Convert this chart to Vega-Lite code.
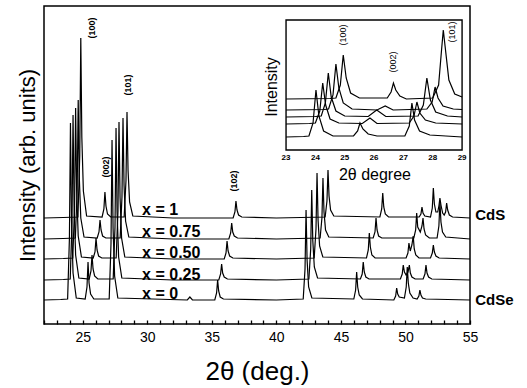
{
  "$schema": "https://vega.github.io/schema/vega-lite/v6.json",
  "width": 426,
  "height": 318,
  "autosize": {"type": "none"},
  "padding": {"left": 44, "top": 6, "right": 57, "bottom": 64},
  "background": "white",
  "config": {"view": {"stroke": "black", "strokeWidth": 1.5}, "font": "Liberation Sans"},
  "datasets": {
    "main": [
      {"s":"1","x":22,"y":106},{"s":"1","x":23.5,"y":106.5},{"s":"1","x":24.63,"y":107},{"s":"1","x":24.77,"y":169},{"s":"1","x":24.85,"y":286},{"s":"1","x":24.93,"y":187},{"s":"1","x":25.05,"y":133},{"s":"1","x":25.3,"y":108},{"s":"1","x":26.5,"y":107},{"s":"1","x":26.64,"y":115},{"s":"1","x":26.72,"y":132},{"s":"1","x":26.8,"y":118},{"s":"1","x":26.92,"y":110},{"s":"1","x":27.17,"y":107},{"s":"1","x":28.21,"y":107},{"s":"1","x":28.35,"y":143},{"s":"1","x":28.43,"y":212},{"s":"1","x":28.51,"y":154},{"s":"1","x":28.63,"y":122},{"s":"1","x":28.88,"y":108},{"s":"1","x":32,"y":106},{"s":"1","x":36.65,"y":106},{"s":"1","x":36.79,"y":112},{"s":"1","x":36.87,"y":123},{"s":"1","x":36.95,"y":114},{"s":"1","x":37.07,"y":109},{"s":"1","x":37.32,"y":107},{"s":"1","x":40,"y":106},{"s":"1","x":43.78,"y":107},{"s":"1","x":43.92,"y":123},{"s":"1","x":44.0,"y":154},{"s":"1","x":44.08,"y":128},{"s":"1","x":44.2,"y":114},{"s":"1","x":44.45,"y":108},{"s":"1","x":48.02,"y":107},{"s":"1","x":48.16,"y":115},{"s":"1","x":48.24,"y":131},{"s":"1","x":48.32,"y":117},{"s":"1","x":48.44,"y":110},{"s":"1","x":48.69,"y":107},{"s":"1","x":51.06,"y":107},{"s":"1","x":51.2,"y":110},{"s":"1","x":51.28,"y":117},{"s":"1","x":51.36,"y":111},{"s":"1","x":51.5,"y":108},{"s":"1","x":51.94,"y":107},{"s":"1","x":52.08,"y":116},{"s":"1","x":52.16,"y":136},{"s":"1","x":52.24,"y":120},{"s":"1","x":52.36,"y":112},{"s":"1","x":52.5,"y":112},{"s":"1","x":52.59,"y":118},{"s":"1","x":52.67,"y":126},{"s":"1","x":52.75,"y":119},{"s":"1","x":52.88,"y":111},{"s":"1","x":53.0,"y":109},{"s":"1","x":53.11,"y":112},{"s":"1","x":53.19,"y":121},{"s":"1","x":53.27,"y":114},{"s":"1","x":53.4,"y":109},{"s":"1","x":53.65,"y":107},{"s":"1","x":55,"y":106},
      {"s":"0.75","x":22,"y":85},{"s":"0.75","x":23.5,"y":85.5},{"s":"0.75","x":24.43,"y":86},{"s":"0.75","x":24.57,"y":134},{"s":"0.75","x":24.65,"y":224},{"s":"0.75","x":24.73,"y":148},{"s":"0.75","x":24.85,"y":106},{"s":"0.75","x":25.1,"y":87},{"s":"0.75","x":26.12,"y":86},{"s":"0.75","x":26.26,"y":92},{"s":"0.75","x":26.34,"y":104},{"s":"0.75","x":26.42,"y":94},{"s":"0.75","x":26.54,"y":88},{"s":"0.75","x":26.79,"y":86},{"s":"0.75","x":27.9,"y":86},{"s":"0.75","x":28.04,"y":127},{"s":"0.75","x":28.12,"y":206},{"s":"0.75","x":28.2,"y":139},{"s":"0.75","x":28.32,"y":103},{"s":"0.75","x":28.57,"y":87},{"s":"0.75","x":32,"y":85},{"s":"0.75","x":36.32,"y":85},{"s":"0.75","x":36.46,"y":91},{"s":"0.75","x":36.54,"y":101},{"s":"0.75","x":36.62,"y":92},{"s":"0.75","x":36.74,"y":88},{"s":"0.75","x":36.99,"y":86},{"s":"0.75","x":40,"y":85},{"s":"0.75","x":43.39,"y":86},{"s":"0.75","x":43.53,"y":106},{"s":"0.75","x":43.61,"y":146},{"s":"0.75","x":43.69,"y":112},{"s":"0.75","x":43.81,"y":94},{"s":"0.75","x":44.06,"y":87},{"s":"0.75","x":47.5,"y":86},{"s":"0.75","x":47.64,"y":92},{"s":"0.75","x":47.72,"y":106},{"s":"0.75","x":47.8,"y":94},{"s":"0.75","x":47.92,"y":88},{"s":"0.75","x":48.17,"y":86},{"s":"0.75","x":50.65,"y":86},{"s":"0.75","x":50.79,"y":94},{"s":"0.75","x":50.87,"y":111},{"s":"0.75","x":50.95,"y":97},{"s":"0.75","x":51.15,"y":92},{"s":"0.75","x":51.28,"y":98},{"s":"0.75","x":51.36,"y":106},{"s":"0.75","x":51.44,"y":95},{"s":"0.75","x":51.56,"y":89},{"s":"0.75","x":51.85,"y":86},{"s":"0.75","x":52.45,"y":86},{"s":"0.75","x":52.59,"y":98},{"s":"0.75","x":52.67,"y":122},{"s":"0.75","x":52.75,"y":102},{"s":"0.75","x":52.87,"y":92},{"s":"0.75","x":53.12,"y":87},{"s":"0.75","x":55,"y":85},
      {"s":"0.5","x":22,"y":65},{"s":"0.5","x":23.5,"y":65.5},{"s":"0.5","x":24.23,"y":66},{"s":"0.5","x":24.37,"y":118},{"s":"0.5","x":24.45,"y":216},{"s":"0.5","x":24.53,"y":133},{"s":"0.5","x":24.65,"y":88},{"s":"0.5","x":24.9,"y":67},{"s":"0.5","x":25.81,"y":66},{"s":"0.5","x":25.95,"y":72},{"s":"0.5","x":26.03,"y":86},{"s":"0.5","x":26.11,"y":74},{"s":"0.5","x":26.23,"y":68},{"s":"0.5","x":26.48,"y":66},{"s":"0.5","x":27.59,"y":66},{"s":"0.5","x":27.73,"y":113},{"s":"0.5","x":27.81,"y":202},{"s":"0.5","x":27.89,"y":127},{"s":"0.5","x":28.01,"y":86},{"s":"0.5","x":28.26,"y":67},{"s":"0.5","x":32,"y":65},{"s":"0.5","x":35.96,"y":65},{"s":"0.5","x":36.1,"y":71},{"s":"0.5","x":36.18,"y":83},{"s":"0.5","x":36.26,"y":73},{"s":"0.5","x":36.38,"y":68},{"s":"0.5","x":36.63,"y":66},{"s":"0.5","x":40,"y":65},{"s":"0.5","x":42.93,"y":66},{"s":"0.5","x":43.07,"y":95},{"s":"0.5","x":43.15,"y":151},{"s":"0.5","x":43.23,"y":104},{"s":"0.5","x":43.35,"y":78},{"s":"0.5","x":43.6,"y":67},{"s":"0.5","x":46.98,"y":66},{"s":"0.5","x":47.12,"y":74},{"s":"0.5","x":47.2,"y":91},{"s":"0.5","x":47.28,"y":77},{"s":"0.5","x":47.4,"y":69},{"s":"0.5","x":47.65,"y":66},{"s":"0.5","x":50.05,"y":66},{"s":"0.5","x":50.19,"y":71},{"s":"0.5","x":50.27,"y":81},{"s":"0.5","x":50.37,"y":73},{"s":"0.5","x":50.5,"y":79},{"s":"0.5","x":50.6,"y":88},{"s":"0.5","x":50.68,"y":75},{"s":"0.5","x":50.8,"y":69},{"s":"0.5","x":51.05,"y":66},{"s":"0.5","x":51.94,"y":66},{"s":"0.5","x":52.08,"y":71},{"s":"0.5","x":52.16,"y":79},{"s":"0.5","x":52.24,"y":72},{"s":"0.5","x":52.36,"y":68},{"s":"0.5","x":52.61,"y":66},{"s":"0.5","x":55,"y":65},
      {"s":"0.25","x":22,"y":44},{"s":"0.25","x":23.5,"y":44.5},{"s":"0.25","x":24.03,"y":45},{"s":"0.25","x":24.17,"y":102},{"s":"0.25","x":24.25,"y":209},{"s":"0.25","x":24.33,"y":118},{"s":"0.25","x":24.45,"y":69},{"s":"0.25","x":24.7,"y":46},{"s":"0.25","x":25.5,"y":45},{"s":"0.25","x":25.64,"y":53},{"s":"0.25","x":25.72,"y":69},{"s":"0.25","x":25.8,"y":55},{"s":"0.25","x":25.92,"y":48},{"s":"0.25","x":26.17,"y":45},{"s":"0.25","x":27.36,"y":45},{"s":"0.25","x":27.5,"y":97},{"s":"0.25","x":27.58,"y":196},{"s":"0.25","x":27.66,"y":112},{"s":"0.25","x":27.78,"y":67},{"s":"0.25","x":28.03,"y":46},{"s":"0.25","x":32,"y":44},{"s":"0.25","x":35.54,"y":44},{"s":"0.25","x":35.68,"y":50},{"s":"0.25","x":35.76,"y":60},{"s":"0.25","x":35.84,"y":51},{"s":"0.25","x":35.96,"y":47},{"s":"0.25","x":36.21,"y":45},{"s":"0.25","x":40,"y":44},{"s":"0.25","x":42.52,"y":45},{"s":"0.25","x":42.66,"y":75},{"s":"0.25","x":42.74,"y":134},{"s":"0.25","x":42.82,"y":84},{"s":"0.25","x":42.94,"y":57},{"s":"0.25","x":43.19,"y":46},{"s":"0.25","x":46.51,"y":45},{"s":"0.25","x":46.65,"y":50},{"s":"0.25","x":46.73,"y":62},{"s":"0.25","x":46.81,"y":52},{"s":"0.25","x":46.93,"y":47},{"s":"0.25","x":47.18,"y":45},{"s":"0.25","x":49.61,"y":45},{"s":"0.25","x":49.75,"y":50},{"s":"0.25","x":49.83,"y":59},{"s":"0.25","x":49.92,"y":52},{"s":"0.25","x":50.05,"y":49},{"s":"0.25","x":50.2,"y":52},{"s":"0.25","x":50.3,"y":59},{"s":"0.25","x":50.38,"y":51},{"s":"0.25","x":50.5,"y":47},{"s":"0.25","x":50.75,"y":45},{"s":"0.25","x":51.37,"y":45},{"s":"0.25","x":51.51,"y":50},{"s":"0.25","x":51.59,"y":59},{"s":"0.25","x":51.67,"y":51},{"s":"0.25","x":51.79,"y":47},{"s":"0.25","x":52.04,"y":45},{"s":"0.25","x":55,"y":44},
      {"s":"0","x":22,"y":24},{"s":"0","x":23.3,"y":24.5},{"s":"0","x":23.83,"y":25},{"s":"0","x":23.97,"y":86},{"s":"0","x":24.05,"y":201},{"s":"0","x":24.13,"y":104},{"s":"0","x":24.25,"y":51},{"s":"0","x":24.5,"y":26},{"s":"0","x":25.19,"y":25},{"s":"0","x":25.33,"y":37},{"s":"0","x":25.41,"y":62},{"s":"0","x":25.49,"y":41},{"s":"0","x":25.61,"y":30},{"s":"0","x":25.86,"y":25},{"s":"0","x":27.05,"y":25},{"s":"0","x":27.19,"y":80},{"s":"0","x":27.27,"y":184},{"s":"0","x":27.35,"y":96},{"s":"0","x":27.47,"y":48},{"s":"0","x":27.72,"y":26},{"s":"0","x":33.1,"y":24},{"s":"0","x":33.3,"y":27},{"s":"0","x":33.5,"y":24},{"s":"0","x":35.23,"y":24},{"s":"0","x":35.37,"y":31},{"s":"0","x":35.45,"y":44},{"s":"0","x":35.53,"y":33},{"s":"0","x":35.65,"y":27},{"s":"0","x":35.9,"y":25},{"s":"0","x":40,"y":24},{"s":"0","x":42.08,"y":25},{"s":"0","x":42.22,"y":55},{"s":"0","x":42.3,"y":114},{"s":"0","x":42.38,"y":64},{"s":"0","x":42.5,"y":37},{"s":"0","x":42.75,"y":26},{"s":"0","x":46.0,"y":25},{"s":"0","x":46.14,"y":34},{"s":"0","x":46.22,"y":52},{"s":"0","x":46.3,"y":37},{"s":"0","x":46.42,"y":29},{"s":"0","x":46.67,"y":25},{"s":"0","x":49.1,"y":24},{"s":"0","x":49.24,"y":28},{"s":"0","x":49.32,"y":36},{"s":"0","x":49.4,"y":30},{"s":"0","x":49.52,"y":27},{"s":"0","x":49.92,"y":26},{"s":"0","x":50.06,"y":37},{"s":"0","x":50.14,"y":57},{"s":"0","x":50.22,"y":41},{"s":"0","x":50.34,"y":31},{"s":"0","x":50.59,"y":26},{"s":"0","x":50.9,"y":25},{"s":"0","x":51.04,"y":28},{"s":"0","x":51.12,"y":34},{"s":"0","x":51.2,"y":29},{"s":"0","x":51.32,"y":26},{"s":"0","x":51.57,"y":25},{"s":"0","x":55,"y":24}
    ],
    "inset": [
      {"s":"1","x":23,"y":51},{"s":"1","x":24.5,"y":51.5},{"s":"1","x":24.7,"y":52},{"s":"1","x":24.85,"y":65},{"s":"1","x":24.95,"y":95},{"s":"1","x":25.05,"y":72},{"s":"1","x":25.2,"y":57},{"s":"1","x":25.5,"y":52},{"s":"1","x":26.45,"y":52},{"s":"1","x":26.58,"y":58},{"s":"1","x":26.66,"y":67},{"s":"1","x":26.74,"y":60},{"s":"1","x":26.88,"y":54},{"s":"1","x":27.1,"y":51},{"s":"1","x":28.0,"y":52},{"s":"1","x":28.2,"y":65},{"s":"1","x":28.3,"y":100},{"s":"1","x":28.36,"y":120},{"s":"1","x":28.42,"y":104},{"s":"1","x":28.55,"y":70},{"s":"1","x":28.75,"y":56},{"s":"1","x":29,"y":53},
      {"s":"0.75","x":23,"y":40},{"s":"0.75","x":24.3,"y":40.5},{"s":"0.75","x":24.45,"y":41},{"s":"0.75","x":24.6,"y":55},{"s":"0.75","x":24.7,"y":86},{"s":"0.75","x":24.8,"y":62},{"s":"0.75","x":24.95,"y":47},{"s":"0.75","x":25.25,"y":41},{"s":"0.75","x":26.1,"y":40},{"s":"0.75","x":26.38,"y":44},{"s":"0.75","x":26.65,"y":40},{"s":"0.75","x":27.8,"y":41},{"s":"0.75","x":27.98,"y":48},{"s":"0.75","x":28.08,"y":63},{"s":"0.75","x":28.18,"y":52},{"s":"0.75","x":28.35,"y":44},{"s":"0.75","x":28.7,"y":41},{"s":"0.75","x":29,"y":40.5},
      {"s":"0.5","x":23,"y":33},{"s":"0.5","x":24.0,"y":33.5},{"s":"0.5","x":24.2,"y":34},{"s":"0.5","x":24.34,"y":47},{"s":"0.5","x":24.44,"y":77},{"s":"0.5","x":24.54,"y":53},{"s":"0.5","x":24.7,"y":39},{"s":"0.5","x":25.0,"y":34},{"s":"0.5","x":25.8,"y":33.5},{"s":"0.5","x":26.09,"y":40},{"s":"0.5","x":26.4,"y":33.5},{"s":"0.5","x":27.5,"y":34},{"s":"0.5","x":27.68,"y":45},{"s":"0.5","x":27.8,"y":72},{"s":"0.5","x":27.92,"y":50},{"s":"0.5","x":28.1,"y":38},{"s":"0.5","x":28.5,"y":34},{"s":"0.5","x":29,"y":33},
      {"s":"0.25","x":23,"y":26},{"s":"0.25","x":23.8,"y":26.5},{"s":"0.25","x":24.0,"y":27},{"s":"0.25","x":24.15,"y":39},{"s":"0.25","x":24.25,"y":67},{"s":"0.25","x":24.35,"y":45},{"s":"0.25","x":24.5,"y":31},{"s":"0.25","x":24.8,"y":27},{"s":"0.25","x":25.6,"y":26.5},{"s":"0.25","x":25.86,"y":32},{"s":"0.25","x":26.1,"y":26.5},{"s":"0.25","x":27.2,"y":27},{"s":"0.25","x":27.36,"y":34},{"s":"0.25","x":27.46,"y":48},{"s":"0.25","x":27.56,"y":37},{"s":"0.25","x":27.75,"y":30},{"s":"0.25","x":28.1,"y":27},{"s":"0.25","x":29,"y":26},
      {"s":"0","x":23,"y":13},{"s":"0","x":23.6,"y":13.5},{"s":"0","x":23.78,"y":14},{"s":"0","x":23.92,"y":27},{"s":"0","x":24.02,"y":60},{"s":"0","x":24.12,"y":34},{"s":"0","x":24.28,"y":19},{"s":"0","x":24.6,"y":14},{"s":"0","x":25.3,"y":14},{"s":"0","x":25.44,"y":19},{"s":"0","x":25.52,"y":27},{"s":"0","x":25.62,"y":21},{"s":"0","x":25.8,"y":16},{"s":"0","x":26.1,"y":14},{"s":"0","x":27.05,"y":14},{"s":"0","x":27.2,"y":24},{"s":"0","x":27.29,"y":47},{"s":"0","x":27.38,"y":30},{"s":"0","x":27.55,"y":19},{"s":"0","x":27.9,"y":15},{"s":"0","x":29,"y":13}
    ]
  },
  "layer": [
    {
      "encoding": {
        "x": {"field": "x", "type": "quantitative",
          "scale": {"domain": [22, 55], "nice": false, "zero": false},
          "axis": {"title": "2θ (deg.)", "values": [22,23,24,25,26,27,28,29,30,31,32,33,34,35,36,37,38,39,40,41,42,43,44,45,46,47,48,49,50,51,52,53,54,55],
            "labelExpr": "datum.value % 5 === 0 ? datum.label : ''", "labelOverlap": false, "labelFlush": false,
            "tickSize": -4, "tickColor": "black", "tickWidth": 1.3, "domain": false, "grid": false,
            "labelFontSize": 14, "labelColor": "black", "labelPadding": 10, "labelFont": "Liberation Sans",
            "titleFontSize": 26, "titleFontWeight": "normal", "titleColor": "black", "titlePadding": 14, "titleFont": "Liberation Sans"}},
        "y": {"field": "y", "type": "quantitative",
          "scale": {"domain": [0, 318], "nice": false, "zero": false},
          "axis": {"title": "Intensity (arb. units)", "labels": false, "ticks": false, "domain": false, "grid": false,
            "titleFontSize": 22, "titleFontWeight": "normal", "titleColor": "black", "titlePadding": 5, "titleFont": "Liberation Sans"}}
      },
      "layer": [
        {"data": {"name": "main"}, "mark": {"type": "line", "color": "black", "strokeWidth": 1.2},
         "encoding": {"detail": {"field": "s", "type": "nominal"}}},
        {"data": {"values": [
            {"x": 29.6, "y": 114, "t": "x = 1"},
            {"x": 29.6, "y": 92, "t": "x = 0.75"},
            {"x": 29.6, "y": 71, "t": "x = 0.50"},
            {"x": 29.6, "y": 49, "t": "x = 0.25"},
            {"x": 29.6, "y": 30, "t": "x = 0"}]},
         "mark": {"type": "text", "align": "left", "baseline": "middle", "fontSize": 16, "fontWeight": "bold", "color": "black"},
         "encoding": {"text": {"field": "t"}}},
        {"data": {"values": [
            {"x": 55.4, "y": 109, "t": "CdS"},
            {"x": 55.4, "y": 24, "t": "CdSe"}]},
         "mark": {"type": "text", "align": "left", "baseline": "middle", "fontSize": 15, "fontWeight": "bold", "color": "black", "clip": false},
         "encoding": {"text": {"field": "t"}}},
        {"data": {"values": [
            {"x": 25.72, "y": 296, "t": "(100)"},
            {"x": 26.8, "y": 157, "t": "(002)"},
            {"x": 28.5, "y": 239, "t": "(101)"},
            {"x": 36.7, "y": 143, "t": "(102)"}]},
         "mark": {"type": "text", "align": "center", "baseline": "middle", "angle": 270, "fontSize": 9, "fontWeight": "bold", "color": "black"},
         "encoding": {"text": {"field": "t"}}}
      ]
    },
    {
      "encoding": {
        "x": {"field": "x", "type": "quantitative", "scale": {"domain": [14.75, 29.27], "nice": false, "zero": false}, "axis": null},
        "y": {"field": "y", "type": "quantitative", "scale": {"domain": [-174, 144], "nice": false, "zero": false}, "axis": null}
      },
      "layer": [
        {"data": {"values": [{"x": 23, "x2": 29, "y": 0, "y2": 130}]},
         "mark": {"type": "rect", "fill": "white", "stroke": "black", "strokeWidth": 1.4},
         "encoding": {"x2": {"field": "x2"}, "y2": {"field": "y2"}}},
        {"data": {"name": "inset"}, "mark": {"type": "line", "color": "black", "strokeWidth": 1.2},
         "encoding": {"detail": {"field": "s", "type": "nominal"}}},
        {"data": {"values": [
            {"x": 24.94, "y": 115, "t": "(100)"},
            {"x": 26.65, "y": 88, "t": "(002)"},
            {"x": 28.66, "y": 118, "t": "(101)"}]},
         "mark": {"type": "text", "align": "center", "baseline": "middle", "angle": 270, "fontSize": 9, "color": "black"},
         "encoding": {"text": {"field": "t"}}},
        {"data": {"values": [{"x": 23, "y": -8, "t": "23"}, {"x": 24, "y": -8, "t": "24"}, {"x": 25, "y": -8, "t": "25"}, {"x": 26, "y": -8, "t": "26"}, {"x": 27, "y": -8, "t": "27"}, {"x": 28, "y": -8, "t": "28"}, {"x": 29, "y": -8, "t": "29"}]},
         "mark": {"type": "text", "align": "center", "baseline": "middle", "fontSize": 8, "fontWeight": "bold", "color": "black"},
         "encoding": {"text": {"field": "t"}}},
        {"data": {"values": [{"x": 26.03, "y": -25, "t": "2θ degree"}]},
         "mark": {"type": "text", "align": "center", "baseline": "middle", "fontSize": 16, "color": "black"},
         "encoding": {"text": {"field": "t"}}},
        {"data": {"values": [{"x": 22.52, "y": 63, "t": "Intensity"}]},
         "mark": {"type": "text", "align": "center", "baseline": "middle", "fontSize": 16, "angle": 270, "color": "black"},
         "encoding": {"text": {"field": "t"}}}
      ]
    }
  ],
  "resolve": {"scale": {"x": "independent", "y": "independent"}}
}
